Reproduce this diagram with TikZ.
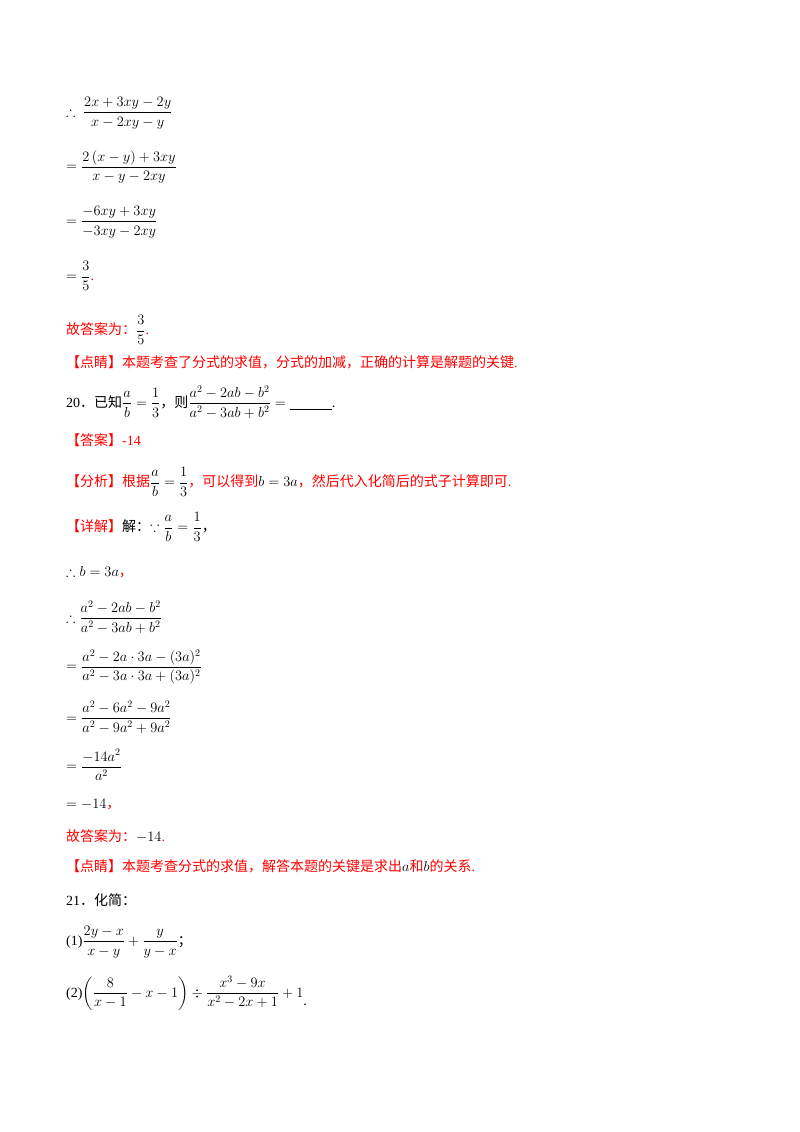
\documentclass[tikz,border=0pt]{standalone}
\usepackage{amsmath,amssymb}
\usepackage{fontspec}
\setmainfont{Liberation Serif}
\newfontfamily\cjk{Noto Sans CJK SC}
\newcommand{\bk}[1]{\textcolor{black}{#1}}
\begin{document}
\begin{tikzpicture}[x=1pt,y=-1pt,
  line/.style={anchor=west,inner sep=0pt,font=\fontsize{14}{16}\selectfont},
  red/.style={text=red}]
\useasboundingbox (0,0) rectangle (800,1132);
\node[line] (l1) at (66,113) {$\therefore\ \dfrac{2x+3xy-2y}{x-2xy-y}$};
\node[line] (l2) at (66,167) {$=\dfrac{2\left(x-y\right)+3xy}{x-y-2xy}$};
\node[line] (l3) at (66,222) {$=\dfrac{-6xy+3xy}{-3xy-2xy}$};
\node[line] (l4) at (66,276) {$=\dfrac{3}{5}$\textcolor{red}{.}};
\node[line,red] (l5) at (66,330) {{\cjk 故答案为：}\bk{$\dfrac{3}{5}$}.};
\node[line,red] (l6) at (66,362) {{\cjk 【点睛】本题考查了分式的求值，分式的加减，正确的计算是解题的关键}.};
\node[line] (l7) at (66,402) {20{\cjk ．已知}$\dfrac{a}{b}=\dfrac{1}{3}${\cjk ，则}$\dfrac{a^2-2ab-b^2}{a^2-3ab+b^2}=\underline{\hspace{42pt}}$.};
\node[line,red] (l8) at (66,440) {{\cjk 【答案】}-14};
\node[line,red] (l9) at (66,482) {{\cjk 【分析】根据}\bk{$\dfrac{a}{b}=\dfrac{1}{3}$}{\cjk ，可以得到}\bk{$b=3a$}{\cjk ，然后代入化简后的式子计算即可}.};
\node[line] (l10) at (66,527) {\textcolor{red}{\cjk 【详解】}{\cjk 解：}$\because\dfrac{a}{b}=\dfrac{1}{3}${\cjk ，}};
\node[line] (l11) at (66,572) {$\therefore b=3a$\textcolor{red}{\cjk ，}};
\node[line] (l12) at (66,617) {$\therefore\dfrac{a^2-2ab-b^2}{a^2-3ab+b^2}$};
\node[line] (l13) at (66,667) {$=\dfrac{a^2-2a\cdot 3a-(3a)^2}{a^2-3a\cdot 3a+(3a)^2}$};
\node[line] (l14) at (66,717) {$=\dfrac{a^2-6a^2-9a^2}{a^2-9a^2+9a^2}$};
\node[line] (l15) at (66,765) {$=\dfrac{-14a^2}{a^2}$};
\node[line] (l16) at (66,805) {$=-14$\textcolor{red}{\cjk ，}};
\node[line,red] (l17) at (66,836) {{\cjk 故答案为：}\bk{$-14$}.};
\node[line,red] (l18) at (66,866) {{\cjk 【点睛】本题考查分式的求值，解答本题的关键是求出}\bk{$a$}{\cjk 和}\bk{$b$}{\cjk 的关系}.};
\node[line] (l19) at (66,900) {21{\cjk ．化简：}};
\node[line] (l20) at (66,942) {(1)$\dfrac{2y-x}{x-y}+\dfrac{y}{y-x}${\cjk ；}};
\node[line] (l21) at (66,993) {(2)$\left(\dfrac{8}{x-1}-x-1\right)\div\dfrac{x^3-9x}{x^2-2x+1}+1$\raisebox{-8pt}{.}};
\end{tikzpicture}
\end{document}
